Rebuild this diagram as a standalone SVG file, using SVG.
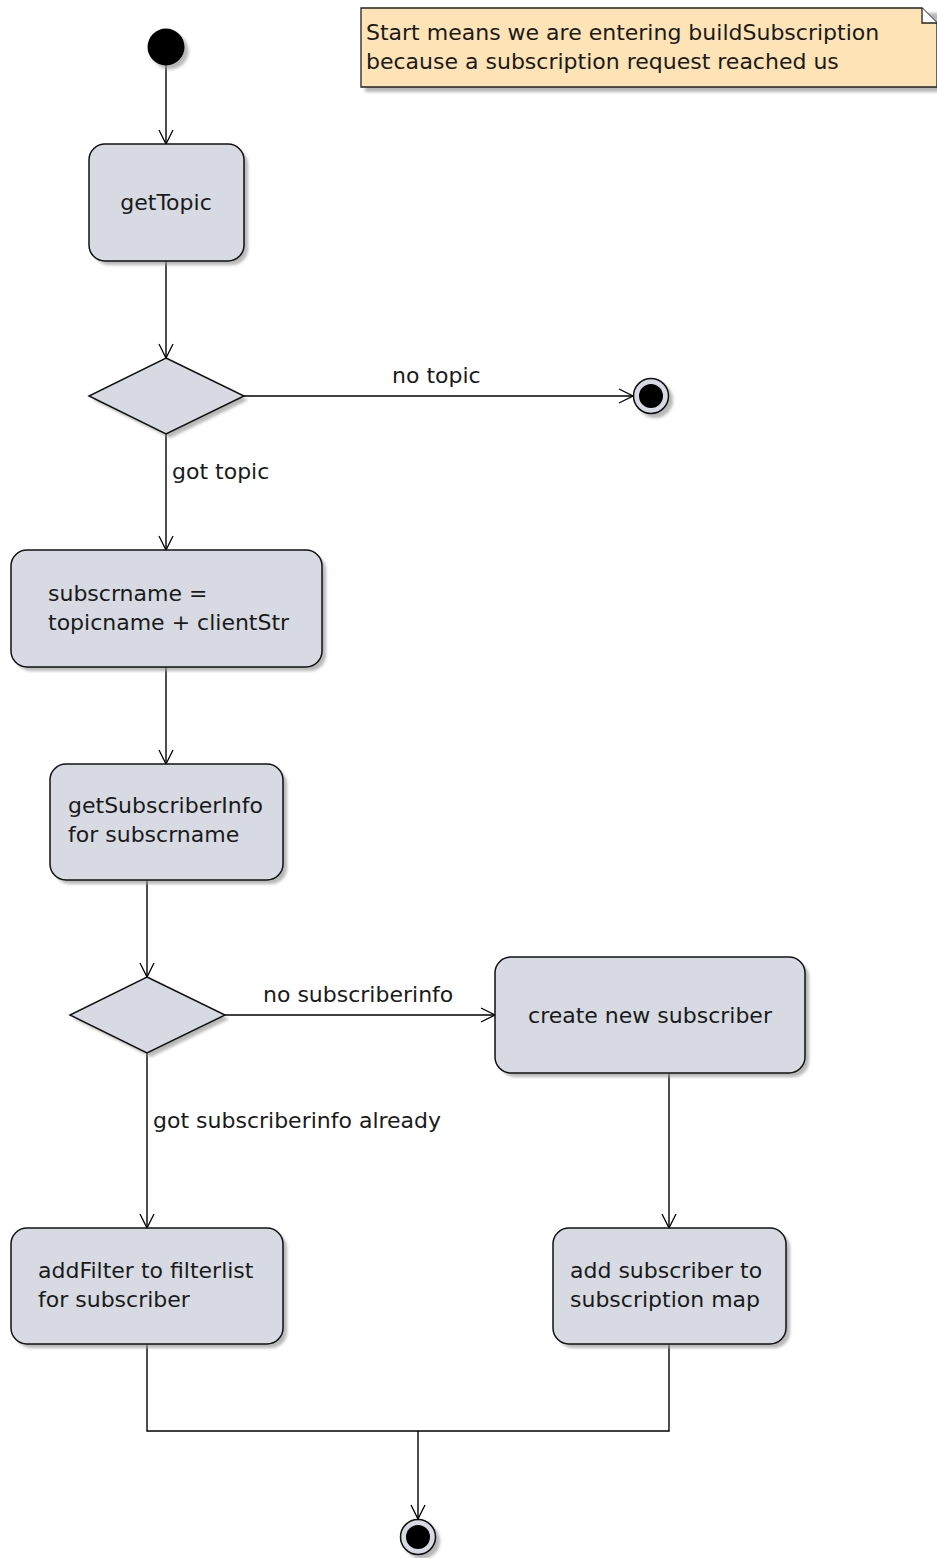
<svg xmlns="http://www.w3.org/2000/svg" width="937" height="1558" viewBox="0 0 937 1558">
  <defs>
    <filter id="shadow" x="-10%" y="-10%" width="130%" height="130%">
      <feGaussianBlur stdDeviation="1.5"/>
    </filter>
    <marker id="open" viewBox="0 0 16 16" refX="15" refY="8" markerWidth="16" markerHeight="16" markerUnits="userSpaceOnUse" orient="auto">
      <path d="M1,1 L15,8 L1,15" fill="none" stroke="#000" stroke-width="1.3"/>
    </marker>
  </defs>
  <style>
    .bg { fill: #ffffff; }
    .act { fill: #d7dae2; stroke: #111; stroke-width: 1.5; }
    .dec { fill: #d7dae2; stroke: #111; stroke-width: 1.5; }
    .sh { fill: #9a9a9a; opacity: 0.7; filter: url(#shadow); }
    .note { fill: #fde3b5; stroke: #222; stroke-width: 1.3; }
    .edge { fill: none; stroke: #000; stroke-width: 1.4; }
    .arr { marker-end: url(#open); }
    text { font-family: "DejaVu Sans", "Liberation Sans", sans-serif; font-size: 22px; fill: #1a1a1a; }
    .c { text-anchor: middle; }
  </style>
  <rect class="bg" x="0" y="0" width="937" height="1558"/>

  <!-- note -->
  <g id="note">
    <rect class="sh" x="365" y="13" width="576" height="79"/>
    <path class="note" d="M361,8 L922,8 L937,23 L937,87 L361,87 Z"/>
    <path d="M922,8 L922,23 L937,23" fill="#ffffff" stroke="#222" stroke-width="1.3"/>
    <text x="366" y="40">Start means we are entering buildSubscription</text>
    <text x="366" y="69">because a subscription request reached us</text>
  </g>

  <!-- connectors -->
  <g id="connectors">
    <line class="edge arr" x1="166" y1="65" x2="166" y2="144"/>
    <line class="edge arr" x1="166" y1="261" x2="166" y2="358"/>
    <line class="edge arr" x1="244" y1="396" x2="633" y2="396"/>
    <text x="392" y="383">no topic</text>
    <line class="edge arr" x1="166" y1="434" x2="166" y2="550"/>
    <text x="172" y="479">got topic</text>
    <line class="edge arr" x1="166" y1="667" x2="166" y2="764"/>
    <line class="edge arr" x1="147" y1="880" x2="147" y2="977"/>
    <line class="edge arr" x1="225" y1="1015" x2="495" y2="1015"/>
    <text x="263" y="1002">no subscriberinfo</text>
    <line class="edge arr" x1="147" y1="1053" x2="147" y2="1228"/>
    <text x="153" y="1128">got subscriberinfo already</text>
    <line class="edge arr" x1="669" y1="1073" x2="669" y2="1228"/>
    <polyline class="edge" points="147,1344 147,1431 669,1431 669,1344"/>
    <line class="edge arr" x1="418" y1="1431" x2="418" y2="1519"/>
  </g>

  <!-- start -->
  <g id="start">
    <circle class="sh" cx="170" cy="51" r="18.5"/>
    <circle cx="166" cy="47" r="18.5" fill="#000"/>
  </g>

  <g id="getTopic">
    <rect class="sh" x="93" y="148" width="155" height="117" rx="16"/>
    <rect class="act" x="89" y="144" width="155" height="117" rx="16"/>
    <text class="c" x="166" y="210">getTopic</text>
  </g>

  <g id="decision1">
    <polygon class="sh" points="170,362 248,400 170,438 93,400"/>
    <polygon class="dec" points="166,358 244,396 166,434 89,396"/>
  </g>

  <g id="end1">
    <circle class="sh" cx="655" cy="400" r="18"/>
    <circle cx="651" cy="396" r="17.5" fill="#d7dae2" stroke="#111" stroke-width="1.5"/>
    <circle cx="651" cy="396" r="12" fill="#000"/>
  </g>

  <g id="subscrname">
    <rect class="sh" x="15" y="554" width="311" height="117" rx="16"/>
    <rect class="act" x="11" y="550" width="311" height="117" rx="16"/>
    <text x="48" y="601">subscrname =</text>
    <text x="48" y="630">topicname + clientStr</text>
  </g>

  <g id="getSubscriberInfo">
    <rect class="sh" x="54" y="768" width="233" height="116" rx="16"/>
    <rect class="act" x="50" y="764" width="233" height="116" rx="16"/>
    <text x="68" y="813">getSubscriberInfo</text>
    <text x="68" y="842">for subscrname</text>
  </g>

  <g id="decision2">
    <polygon class="sh" points="151,981 229,1019 151,1057 74,1019"/>
    <polygon class="dec" points="147,977 225,1015 147,1053 70,1015"/>
  </g>

  <g id="createSubscriber">
    <rect class="sh" x="499" y="961" width="310" height="116" rx="16"/>
    <rect class="act" x="495" y="957" width="310" height="116" rx="16"/>
    <text class="c" x="650" y="1023">create new subscriber</text>
  </g>

  <g id="addFilter">
    <rect class="sh" x="15" y="1232" width="272" height="116" rx="16"/>
    <rect class="act" x="11" y="1228" width="272" height="116" rx="16"/>
    <text x="38" y="1278">addFilter to filterlist</text>
    <text x="38" y="1307">for subscriber</text>
  </g>

  <g id="addSubscriber">
    <rect class="sh" x="557" y="1232" width="233" height="116" rx="16"/>
    <rect class="act" x="553" y="1228" width="233" height="116" rx="16"/>
    <text x="570" y="1278">add subscriber to</text>
    <text x="570" y="1307">subscription map</text>
  </g>

  <g id="end2">
    <circle class="sh" cx="422" cy="1541" r="18"/>
    <circle cx="418" cy="1537" r="17.5" fill="#d7dae2" stroke="#111" stroke-width="1.5"/>
    <circle cx="418" cy="1537" r="12" fill="#000"/>
  </g>
</svg>
